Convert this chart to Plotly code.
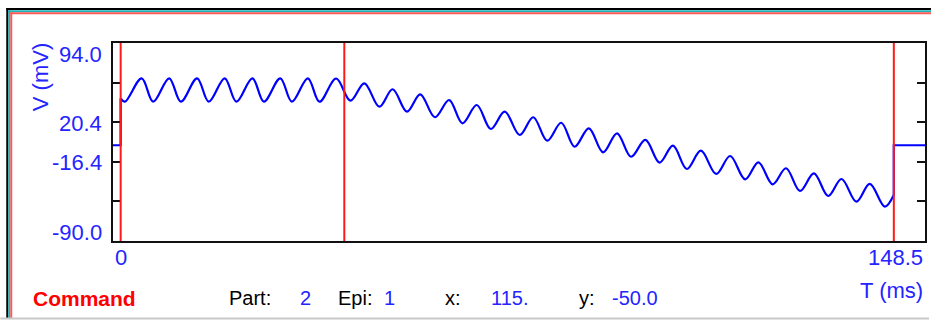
import plotly.graph_objects as go

# ---------------- data ----------------
x_range = [0.0, 148.5]          # T (ms)
y_range = [-90.0, 94.0]         # V (mV)
hold_v = -1.0                   # holding level before/after the protocol
cursor_t = [1.4, 42.3, 142.8]   # red cursor lines (ms)

# command waveform vertices (step onset, then alternating troughs / peaks, end)
wave_t = [1.40, 2.19, 5.24, 7.35, 10.27, 12.41, 15.38, 17.51, 20.43, 22.57,
          25.49, 27.60, 30.59, 32.71, 35.63, 37.76, 40.81,
          43.42, 45.97, 48.71, 51.14, 53.76, 56.19, 58.87, 61.48, 63.90,
          66.53, 69.09, 71.64, 74.38, 76.86, 79.41, 81.97, 84.41, 87.02,
          89.63, 92.18, 94.74, 97.36, 99.97, 102.40, 104.95, 107.51, 110.31,
          112.87, 115.61, 118.03, 120.64, 123.08, 125.64, 128.19, 130.80,
          133.23, 135.96, 138.40, 141.15, 142.79]
wave_v = [42.6, 39.5, 61.2, 39.5, 61.2, 39.5, 61.2, 39.5, 61.2, 39.5,
          61.2, 39.5, 61.2, 39.5, 61.2, 39.5, 61.0,
          40.4, 56.5, 34.8, 51.0, 30.2, 46.3, 25.0, 41.0, 19.4,
          36.4, 14.1, 30.2, 8.5, 25.0, 3.2, 19.9, -2.4, 14.7,
          -7.6, 10.1, -11.7, 3.9, -17.2, -1.4, -23.1, -6.1, -27.7,
          -11.0, -32.7, -16.9, -37.3, -22.4, -43.5, -27.1, -48.2,
          -32.4, -53.5, -37.0, -58.1, -47.3]

y_tick_vals = [57.2, 20.4, -16.4, -53.2]
y_label_vals = [94.0, 20.4, -16.4, -90.0]
y_label_text = ["94.0", "20.4", "-16.4", "-90.0"]
x_label_vals = [0.0, 148.5]
x_label_text = ["0", "148.5"]

status_title = "Command"
status_part = "2"
status_epi = "1"
status_x = "115."
status_y = "-50.0"

# ---------------- layout geometry ----------------
W, H = 931, 320
L, R, T, B = 113, 4, 43, 79
PW, PH = W - L - R, H - T - B

def px_x(px):
    return (px - L) / PW

def px_y(py):
    return (H - B - py) / PH

BLUE = "#0000ff"
TXT_BLUE = "#2424ff"
RED = "#ff1a1a"
FONT = "Liberation Sans, Arial, sans-serif"

fig = go.Figure()

# holding segment before the step
fig.add_trace(go.Scatter(
    x=[x_range[0], wave_t[0], wave_t[0]],
    y=[hold_v, hold_v, wave_v[0]],
    mode="lines", line=dict(color=BLUE, width=2.2), hoverinfo="skip"))
# oscillating command
fig.add_trace(go.Scatter(
    x=wave_t, y=wave_v, mode="lines",
    line=dict(color=BLUE, width=2.2, shape="spline", smoothing=1.0),
    hoverinfo="skip"))
# return to holding
fig.add_trace(go.Scatter(
    x=[wave_t[-1], wave_t[-1], x_range[1]],
    y=[wave_v[-1], hold_v, hold_v],
    mode="lines", line=dict(color=BLUE, width=2.2), hoverinfo="skip"))

shapes = []
for ct in cursor_t:
    shapes.append(dict(type="line", xref="x", yref="paper", x0=ct, x1=ct,
                       y0=0, y1=1, line=dict(color=RED, width=2), layer="above"))

# window frame (black / teal / red) and bottom edge
frame = [("#000000", 9.0, 7.0, 6), ("#1fb3b3", 11.2, 9.0, 8), ("#ff5a5a", 13.3, 11.0, 10)]
for col, ytop, xleft, xstart in frame:
    shapes.append(dict(type="line", xref="paper", yref="paper",
                       x0=px_x(xstart), x1=px_x(W + 2), y0=px_y(ytop), y1=px_y(ytop),
                       line=dict(color=col, width=2), layer="above"))
    shapes.append(dict(type="line", xref="paper", yref="paper",
                       x0=px_x(xleft), x1=px_x(xleft), y0=px_y(ytop - 1), y1=px_y(H - 1.5),
                       line=dict(color=col, width=2), layer="above"))
shapes.append(dict(type="line", xref="paper", yref="paper",
                   x0=px_x(0), x1=px_x(W), y0=px_y(H - 1.5), y1=px_y(H - 1.5),
                   line=dict(color="#c8c8c8", width=2), layer="above"))

ann = []
# y labels
for v, s in zip(y_label_vals, y_label_text):
    if v == y_range[1]:
        ya, ys = "top", 3
    elif v == y_range[0]:
        ya, ys = "bottom", -6
    else:
        ya, ys = "middle", -1
    ann.append(dict(x=0, xref="paper", y=v, yref="y", text=s, showarrow=False,
                    xanchor="right", yanchor=ya, xshift=-9, yshift=ys,
                    font=dict(family=FONT, size=22, color=TXT_BLUE)))
# x labels
for v, s in zip(x_label_vals, x_label_text):
    xa = "left" if v == x_range[0] else "right"
    ann.append(dict(x=v, xref="x", y=0, yref="paper", text=s, showarrow=False,
                    xanchor=xa, yanchor="top", yshift=-2,
                    font=dict(family=FONT, size=22, color=TXT_BLUE)))
# axis titles
ann.append(dict(x=px_x(40), xref="paper", y=px_y(77), yref="paper", text="V (mV)",
                textangle=-90, showarrow=False, xanchor="center", yanchor="middle",
                font=dict(family=FONT, size=22, color=TXT_BLUE)))
ann.append(dict(x=1, xref="paper", y=px_y(290), yref="paper", text="T (ms)",
                showarrow=False, xanchor="right", yanchor="middle",
                font=dict(family=FONT, size=22, color=TXT_BLUE)))
# status row
row_y = px_y(298)
ann.append(dict(x=px_x(31), xref="paper", y=row_y, yref="paper",
                text="<b>%s</b>" % status_title, showarrow=False,
                xanchor="left", yanchor="middle",
                font=dict(family=FONT, size=21, color="#ff0000")))
row_items = [("Part:", 227, "#000000"), (status_part, 298, TXT_BLUE),
             ("Epi:", 337, "#000000"), (status_epi, 383, TXT_BLUE),
             ("x:", 444, "#000000"), (status_x, 490, TXT_BLUE),
             ("y:", 578, "#000000"), (status_y, 611, TXT_BLUE)]
for s, xp, col in row_items:
    ann.append(dict(x=px_x(xp), xref="paper", y=row_y, yref="paper", text=s,
                    showarrow=False, xanchor="left", yanchor="middle",
                    font=dict(family=FONT, size=20, color=col)))

fig.update_layout(
    width=W, height=H, autosize=False,
    margin=dict(l=L, r=R, t=T, b=B, pad=0),
    paper_bgcolor="white", plot_bgcolor="white",
    showlegend=False, shapes=shapes, annotations=ann,
    xaxis=dict(range=x_range, showgrid=False, zeroline=False, showline=True,
               linecolor="#111111", linewidth=2, mirror=True, ticks="",
               showticklabels=False, fixedrange=True),
    yaxis=dict(range=y_range, showgrid=False, zeroline=False, showline=True,
               linecolor="#111111", linewidth=2, mirror="ticks", ticks="inside",
               tickvals=y_tick_vals, ticklen=8, tickwidth=2, tickcolor="#111111",
               showticklabels=False, fixedrange=True),
)

fig.write_html("out.html", config={"displayModeBar": False},
               post_script="document.body.style.margin='0';"
                           "document.body.style.overflow='hidden';")
